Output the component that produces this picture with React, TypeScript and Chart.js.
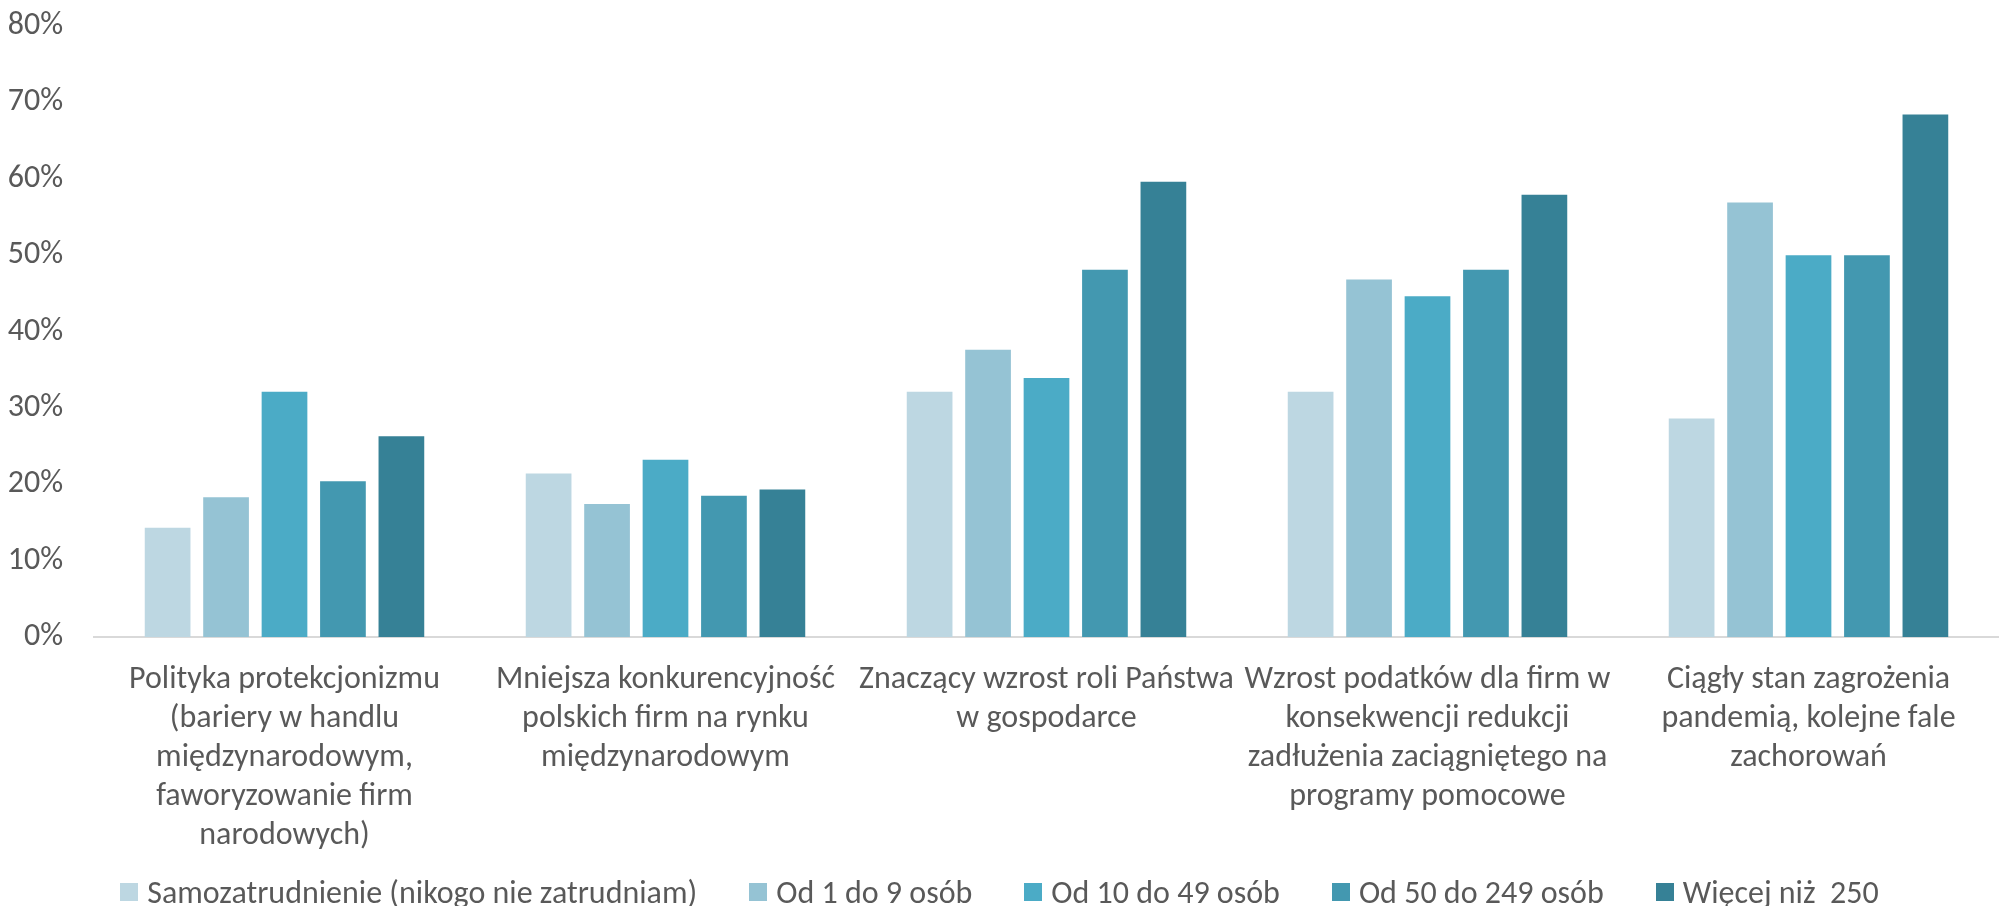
import React, { useEffect, useRef } from "react";
import { Chart, registerables } from "chart.js";

Chart.register(...registerables);

const categories: string[][] = [
  ["Polityka protekcjonizmu", "(bariery w handlu", "międzynarodowym,", "faworyzowanie firm", "narodowych)"],
  ["Mniejsza konkurencyjność", "polskich firm na rynku", "międzynarodowym"],
  ["Znaczący wzrost roli Państwa", "w gospodarce"],
  ["Wzrost podatków dla firm w", "konsekwencji redukcji", "zadłużenia zaciągniętego na", "programy pomocowe"],
  ["Ciągły stan zagrożenia", "pandemią, kolejne fale", "zachorowań"],
];

const seriesNames: string[] = [
  "Samozatrudnienie (nikogo nie zatrudniam)",
  "Od 1 do 9 osób",
  "Od 10 do 49 osób",
  "Od 50 do 249 osób",
  "Więcej niż  250",
];

const samozatrudnienie: number[] = [14.3, 21.4, 32.1, 32.1, 28.6];
const od1do9: number[] = [18.3, 17.4, 37.6, 46.8, 56.9];
const od10do49: number[] = [32.1, 23.2, 33.9, 44.6, 50.0];
const od50do249: number[] = [20.4, 18.5, 48.1, 48.1, 50.0];
const wiecejNiz250: number[] = [26.3, 19.3, 59.6, 57.9, 68.4];

const seriesValues: number[][] = [samozatrudnienie, od1do9, od10do49, od50do249, wiecejNiz250];
const seriesColors: string[] = ["#bdd7e2", "#95c3d4", "#4babc6", "#4398b0", "#368196"];

const yTicks: number[] = [0, 10, 20, 30, 40, 50, 60, 70, 80];

const FONT = "Carlito, Lato, 'Noto Sans', sans-serif";
const TEXT = "#595959";
const FS = 32;

export default function App() {
  const ref = useRef<HTMLCanvasElement | null>(null);

  useEffect(() => {
    if (!ref.current) return;
    const chart = new Chart(ref.current, {
      type: "bar",
      data: {
        labels: categories,
        datasets: seriesNames.map((name, i) => ({
          label: name,
          data: seriesValues[i],
          backgroundColor: seriesColors[i],
          borderWidth: 0,
          barPercentage: 0.782,
          categoryPercentage: 0.767,
        })),
      },
      options: {
        responsive: false,
        animation: false,
        devicePixelRatio: 1,
        layout: { padding: { top: 26, right: -11, bottom: 0, left: 0 } },
        plugins: {
          legend: { display: false },
          tooltip: { enabled: false },
        },
        scales: {
          x: {
            grid: { display: false, drawTicks: false },
            border: { display: true, color: "#d9d9d9", width: 2 },
            ticks: {
              color: TEXT,
              font: { family: FONT, size: FS, lineHeight: "39px" },
              padding: 23.5,
              maxRotation: 0,
              minRotation: 0,
              autoSkip: false,
            },
            afterFit: (scale: any) => {
              scale.height = 906 - 637;
              scale.paddingLeft = 0;
              scale.paddingRight = 0;
            },
          },
          y: {
            min: 0,
            max: 80,
            grid: { display: false, drawTicks: false },
            border: { display: false },
            afterBuildTicks: (scale: any) => {
              scale.ticks = yTicks.map((v) => ({ value: v }));
            },
            ticks: {
              color: TEXT,
              font: { family: FONT, size: FS },
              padding: 31,
              callback: (v: any) => `${v}%`,
            },
            afterFit: (scale: any) => {
              scale.width = 94;
              scale.paddingTop = 0;
              scale.paddingBottom = 0;
            },
          },
        },
      },
    });
    return () => chart.destroy();
  }, []);

  return (
    <div style={{ position: "absolute", left: 0, top: 0, width: 1999, height: 906, background: "#fff" }}>
      <canvas ref={ref} width={1999} height={906} style={{ display: "block", width: 1999, height: 906 }} />
      <div
        style={{
          position: "absolute",
          left: 0,
          top: 872,
          width: 1999,
          height: 40,
          display: "flex",
          justifyContent: "center",
          alignItems: "center",
          gap: 52,
          fontFamily: FONT,
          fontSize: FS,
          color: TEXT,
          whiteSpace: "nowrap",
        }}
      >
        {seriesNames.map((name, i) => (
          <div key={name} style={{ display: "flex", alignItems: "center", gap: 9 }}>
            <span style={{ display: "inline-block", width: 18, height: 18, background: seriesColors[i] }} />
            <span style={{ whiteSpace: "pre" }}>{name}</span>
          </div>
        ))}
      </div>
    </div>
  );
}
